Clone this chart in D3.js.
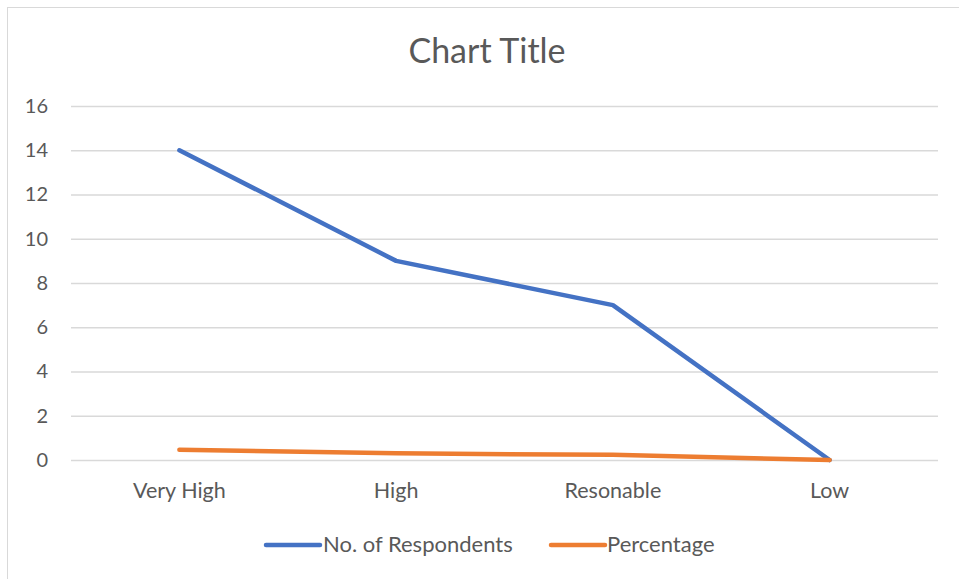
<!DOCTYPE html>
<html><head><meta charset="utf-8">
<script src="https://cdn.jsdelivr.net/npm/d3@7"></script>
<style>body{margin:0;background:#fff;} svg{display:block;font-family:Lato, "Open Sans", sans-serif;}</style>
</head><body>
<svg id="c" width="959" height="579"></svg>
<script>
const categories = ["Very High", "High", "Resonable", "Low"];
const respondents = [14, 9, 7, 0];
const percentage = [0.467, 0.3, 0.233, 0];
const yTicks = [0, 2, 4, 6, 8, 10, 12, 14, 16];
const seriesNames = ["No. of Respondents", "Percentage"];
const colors = ["#4472C4", "#ED7D31"];

const svg = d3.select("#c");
svg.append("rect").attr("x", 7.5).attr("y", 7.5).attr("width", 960).attr("height", 580)
  .attr("fill", "#fff").attr("stroke", "#d9d9d9");

const x = d3.scaleBand().domain(categories).range([71, 938]);
const y = d3.scaleLinear().domain([0, 16]).range([460, 106]);

svg.append("text").attr("x", 487).attr("y", 63).attr("text-anchor", "middle")
  .attr("font-size", 34).attr("fill", "#595959").text("Chart Title");

const ya = svg.append("g").attr("transform", "translate(71,0)")
  .call(d3.axisLeft(y).tickValues(yTicks).tickSize(-(938 - 71)).tickPadding(23));
ya.attr("font-family", null).attr("font-size", null);
ya.select(".domain").remove();
ya.selectAll(".tick line").attr("stroke", "#d9d9d9").attr("stroke-width", 1.3);
ya.selectAll(".tick text").attr("fill", "#595959").attr("font-size", 20);

const xa = svg.append("g").attr("transform", "translate(0,460)")
  .call(d3.axisBottom(x).tickSize(0).tickPadding(23));
xa.attr("font-family", null).attr("font-size", null);
xa.select(".domain").remove();
xa.selectAll(".tick text").attr("fill", "#595959").attr("font-size", 21.5);

const line = d3.line().x((d, i) => x(categories[i]) + x.bandwidth() / 2).y(d => y(d));
[respondents, percentage].forEach((s, i) => {
  svg.append("path").datum(s).attr("d", line).attr("fill", "none")
    .attr("stroke", colors[i]).attr("stroke-width", 4.5).attr("stroke-linecap", "round").attr("stroke-linejoin", "round");
});

const legend = [{x: 266, tx: 323}, {x: 551, tx: 607}];
seriesNames.forEach((n, i) => {
  svg.append("line").attr("x1", legend[i].x).attr("x2", legend[i].x + 54).attr("y1", 545).attr("y2", 545)
    .attr("stroke", colors[i]).attr("stroke-width", 4.5).attr("stroke-linecap", "round");
  svg.append("text").attr("x", legend[i].tx).attr("y", 552).attr("font-size", 22).attr("fill", "#595959").text(n);
});
</script>
</body></html>
